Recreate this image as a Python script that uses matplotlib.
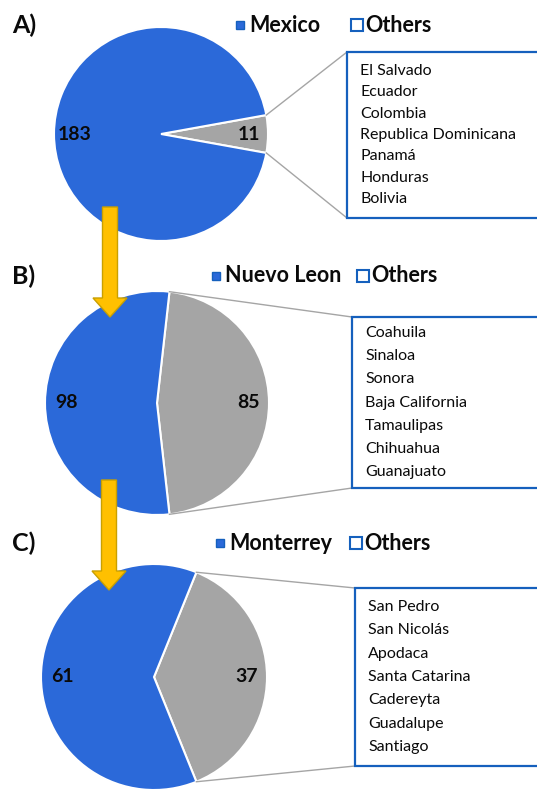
from matplotlib import pyplot as plt
from matplotlib.patches import Rectangle, FancyArrow
import numpy as np

# data
panel_tags = ['A)', 'B)', 'C)']
main_labels = ['Mexico', 'Nuevo Leon', 'Monterrey']
main_counts = [183, 98, 61]
other_counts = [11, 85, 37]
other_names = [
    ['El Salvado', 'Ecuador', 'Colombia', 'Republica Dominicana', 'Panamá', 'Honduras', 'Bolivia'],
    ['Coahuila', 'Sinaloa', 'Sonora', 'Baja California', 'Tamaulipas', 'Chihuahua', 'Guanajuato'],
    ['San Pedro', 'San Nicolás', 'Apodaca', 'Santa Catarina', 'Cadereyta', 'Guadalupe', 'Santiago'],
]

# layout (pixel space)
W, H = 537, 790
pie_xy = [(161, 134), (157, 403), (154, 677)]
pie_r = [107, 112, 113]
legend_y = [25, 276, 543]
legend_x = [(240, 357), (216, 363), (220, 356)]
box_x = [347, 352, 355]
box_y = [(52, 218), (317, 488), (588, 766)]
line_step = [21.4, 23.3, 23.4]
arrows = [(110, 207, 317), (109, 480, 590)]

BLUE = '#2B69D9'
GRAY = '#A5A5A5'
EDGE = '#1560BD'
INK = '#0a0a0a'
FONT = 'Lato'

fig = plt.figure(figsize=(W / 100, H / 100), dpi=100)
ax = fig.add_axes([0, 0, 1, 1])

for i in range(3):
    cx, cy = pie_xy[i]
    r = pie_r[i]
    tot = main_counts[i] + other_counts[i]
    half = 360.0 * other_counts[i] / tot / 2
    ax.pie([other_counts[i], main_counts[i]], colors=[GRAY, BLUE], startangle=-half,
           center=(cx, cy), radius=r, frame=True,
           wedgeprops=dict(edgecolor='white', linewidth=1.5))
    ax.text(cx - 0.81 * r, cy, str(main_counts[i]), ha='center', va='center',
            fontsize=14, fontweight='bold', color=INK, family=FONT)
    ax.text(cx + 0.82 * r, cy, str(other_counts[i]), ha='center', va='center',
            fontsize=14, fontweight='bold', color=INK, family=FONT)

    # title + legend
    ax.text(12, legend_y[i], panel_tags[i], ha='left', va='center', fontsize=18,
            fontweight='bold', color=INK, family=FONT)
    mx, ox = legend_x[i]
    ax.plot(mx, legend_y[i], 's', ms=6, color=BLUE, mec=EDGE)
    ax.plot(ox, legend_y[i], 's', ms=9, mfc='white', mec=EDGE, mew=1.5)
    ax.text(mx + 9, legend_y[i], main_labels[i], ha='left', va='center', fontsize=15.5,
            fontweight='bold', color=INK, family=FONT)
    ax.text(ox + 8, legend_y[i], 'Others', ha='left', va='center', fontsize=15.5,
            fontweight='bold', color=INK, family=FONT)

    # box with names
    bx = box_x[i]
    by0, by1 = box_y[i]
    ax.add_patch(Rectangle((bx, by0), W + 20 - bx, by1 - by0, facecolor='white',
                           edgecolor=EDGE, linewidth=1.6, zorder=3))
    pad = (by1 - by0 - line_step[i] * 6) / 2
    for j, name in enumerate(other_names[i]):
        ax.text(bx + 13, by0 + pad + j * line_step[i], name, ha='left', va='center',
                fontsize=11.5, color=INK, family=FONT, zorder=4)

    # connector lines
    a = np.deg2rad(half)
    ax.plot([cx + r * np.cos(a), bx], [cy - r * np.sin(a), by0], color=GRAY, lw=1, zorder=2)
    ax.plot([cx + r * np.cos(a), bx], [cy + r * np.sin(a), by1], color=GRAY, lw=1, zorder=2)

for x, y0, y1 in arrows:
    ax.add_patch(FancyArrow(x, y0, 0, y1 - y0, width=15, head_width=34, head_length=19,
                            length_includes_head=True, facecolor='#FFC000',
                            edgecolor='#C9A000', linewidth=1, zorder=5))

ax.set_xlim(0, W)
ax.set_ylim(H, 0)
ax.set_aspect('equal')
ax.axis('off')

plt.savefig('out.png', dpi=100)
